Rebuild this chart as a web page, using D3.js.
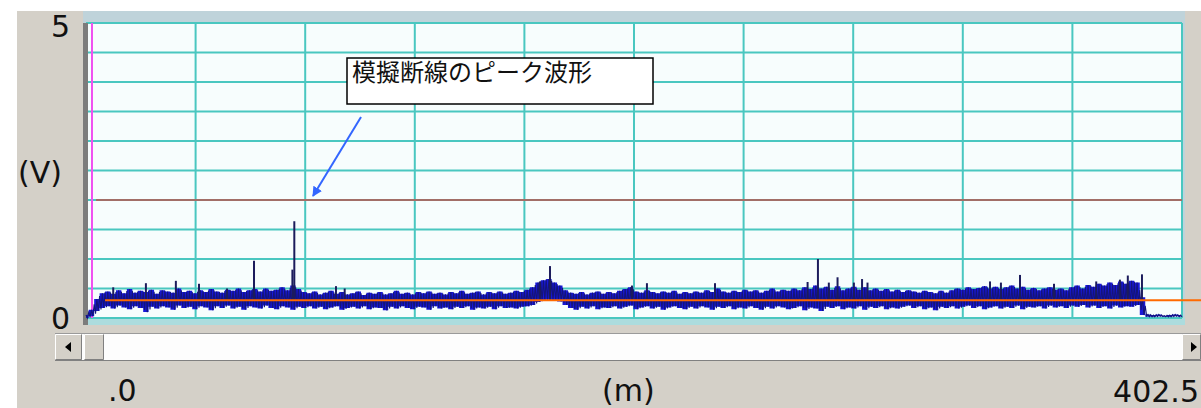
<!DOCTYPE html>
<html>
<head>
<meta charset="utf-8">
<script src="https://cdn.jsdelivr.net/npm/d3@7"></script>
<style>
  body { margin: 0; background: #fff; }
  svg { display: block; }
  text { font-family: "DejaVu Sans", sans-serif; fill: #111; }
</style>
</head>
<body>
<div id="chart"></div>
<script>
// distance axis (m) and sample step of the trace
const xMax = 402.5
const sampleStep = 2
const yTickLabels = ["0", "5"]
const xTickLabels = [".0", "402.5"]

// upper edge of the noisy trace (V), one value per 2 m
const traceHigh = [
  0.05,0.14,0.32,0.42,0.45,0.41,0.47,0.42,0.49,0.43,0.46,0.44,0.48,0.41,0.47,0.45,0.43,0.5,0.44,0.46,
  0.42,0.47,0.44,0.49,0.45,0.43,0.48,0.46,0.5,0.44,0.47,0.49,0.45,0.5,0.46,0.48,0.52,0.47,0.55,0.49,
  0.44,0.42,0.45,0.4,0.43,0.46,0.41,0.44,0.4,0.42,0.45,0.39,0.43,0.41,0.44,0.4,0.42,0.46,0.41,0.43,
  0.4,0.44,0.42,0.45,0.41,0.43,0.4,0.44,0.42,0.46,0.41,0.43,0.45,0.4,0.44,0.42,0.45,0.41,0.43,0.46,
  0.44,0.48,0.52,0.6,0.64,0.66,0.6,0.55,0.47,0.43,0.41,0.44,0.4,0.43,0.45,0.41,0.44,0.42,0.46,0.49,
  0.52,0.45,0.43,0.47,0.44,0.42,0.45,0.43,0.46,0.41,0.44,0.42,0.45,0.43,0.47,0.44,0.5,0.45,0.43,0.46,
  0.44,0.48,0.45,0.47,0.43,0.46,0.5,0.45,0.48,0.46,0.5,0.47,0.52,0.49,0.55,0.5,0.53,0.48,0.54,0.47,
  0.5,0.53,0.48,0.52,0.47,0.5,0.46,0.49,0.45,0.48,0.44,0.47,0.45,0.43,0.46,0.44,0.42,0.46,0.43,0.47,
  0.5,0.48,0.52,0.49,0.51,0.54,0.5,0.53,0.49,0.52,0.55,0.5,0.53,0.48,0.51,0.47,0.5,0.52,0.48,0.5,
  0.47,0.52,0.55,0.5,0.56,0.53,0.58,0.55,0.6,0.56,0.62,0.58,0.63,0.6,0.35,0.06,0.05,0.06,0.04,0.05,
  0.06,0.05
]

// lower edge of the noisy trace (V)
const traceLow = [
  0.0,0.03,0.12,0.17,0.2,0.16,0.21,0.18,0.15,0.2,0.17,0.1,0.19,0.16,0.2,0.18,0.14,0.21,0.17,0.19,
  0.15,0.2,0.18,0.13,0.2,0.17,0.21,0.16,0.19,0.14,0.2,0.18,0.16,0.21,0.17,0.15,0.2,0.18,0.14,0.19,
  0.17,0.2,0.16,0.19,0.15,0.18,0.2,0.14,0.17,0.19,0.16,0.2,0.15,0.18,0.17,0.13,0.19,0.16,0.2,0.17,
  0.15,0.19,0.18,0.14,0.2,0.16,0.18,0.15,0.19,0.17,0.2,0.14,0.18,0.16,0.19,0.15,0.2,0.17,0.18,0.16,
  0.19,0.2,0.22,0.27,0.3,0.31,0.3,0.28,0.22,0.17,0.14,0.19,0.16,0.2,0.15,0.18,0.17,0.2,0.16,0.19,
  0.21,0.15,0.18,0.2,0.16,0.19,0.14,0.18,0.2,0.17,0.15,0.19,0.16,0.2,0.18,0.14,0.19,0.17,0.2,0.15,
  0.18,0.16,0.2,0.17,0.14,0.19,0.16,0.2,0.18,0.15,0.17,0.2,0.13,0.18,0.16,0.12,0.19,0.17,0.2,0.15,
  0.18,0.16,0.2,0.14,0.19,0.17,0.2,0.15,0.18,0.16,0.19,0.21,0.17,0.2,0.15,0.18,0.13,0.19,0.17,0.2,
  0.16,0.19,0.21,0.17,0.2,0.15,0.18,0.2,0.16,0.19,0.17,0.21,0.15,0.19,0.18,0.2,0.16,0.21,0.18,0.2,
  0.17,0.21,0.19,0.22,0.18,0.21,0.17,0.2,0.16,0.21,0.18,0.2,0.19,0.22,0.05,0.02,0.02,0.03,0.02,0.02,
  0.03,0.02
]

// narrow peaks sticking out of the trace: position (m), peak (V)
const peakPos = [10, 22, 33, 41.5, 51.8, 61.7, 75.8, 76.5, 91.8, 95, 166.7, 170.4, 200.5, 206,
  231, 265, 268.8, 272.8, 276, 282, 285, 287, 332, 336, 343, 355.5, 371, 379.7, 382.6, 387.8]
const peakVal = [0.52, 0.59, 0.63, 0.58, 0.5, 0.97, 0.82, 1.64, 0.54, 0.5, 0.62, 0.88, 0.55, 0.59,
  0.59, 0.61, 1.0, 0.6, 0.69, 0.6, 0.66, 0.6, 0.62, 0.6, 0.73, 0.58, 0.62, 0.65, 0.72, 0.74]

const thresholdV = 2.0   // red line
const levelV = 0.3       // orange line
const cursorM = 2.2      // magenta cursor
const note = "模擬断線のピーク波形"

const W = 1201, H = 408
const svg = d3.select("#chart").append("svg").attr("width", W).attr("height", H)

const x = d3.scaleLinear().domain([0, xMax]).range([86, 1182])
const y = d3.scaleLinear().domain([0, 5]).range([318, 23])

// window background
svg.append("rect").attr("x", 17).attr("y", 11).attr("width", W - 17).attr("height", H - 11).attr("fill", "#d4d0c8")
// frame round the plot
svg.append("rect").attr("x", 83).attr("y", 11).attr("width", 1102).attr("height", 314).attr("fill", "#bfd3da")
svg.append("rect").attr("x", 83).attr("y", 318).attr("width", 1102).attr("height", 7).attr("fill", "#acdcde")
svg.append("rect").attr("x", x(0)).attr("y", y(5)).attr("width", x(xMax) - x(0)).attr("height", y(0) - y(5))
  .attr("fill", "#f7fdfd")

// grid
const grid = svg.append("g")
grid.selectAll(".h").data(d3.range(0, 5.01, 0.5)).join("line")
  .attr("x1", x(0)).attr("x2", x(xMax)).attr("y1", d => y(d)).attr("y2", d => y(d))
  .attr("stroke", "#4ac7c0").attr("stroke-width", 2)
grid.selectAll(".v").data(d3.range(0, 11).map(i => i * xMax / 10)).join("line")
  .attr("x1", d => x(d)).attr("x2", d => x(d)).attr("y1", y(5)).attr("y2", y(0))
  .attr("stroke", "#4ac7c0").attr("stroke-width", 2)

// left edge bars and cursor
svg.append("rect").attr("x", 83).attr("y", 23).attr("width", 5).attr("height", 302).attr("fill", "#7c7c7c")
svg.append("line").attr("x1", x(cursorM)).attr("x2", x(cursorM)).attr("y1", y(5)).attr("y2", y(0))
  .attr("stroke", "#f050f0").attr("stroke-width", 2)

// threshold line
svg.append("line").attr("x1", x(0) + 10).attr("x2", x(xMax)).attr("y1", y(thresholdV)).attr("y2", y(thresholdV))
  .attr("stroke", "#c0504a").attr("stroke-width", 1.5)

// trace: filled band plus a zig-zag between the edges
const samples = traceHigh.map((v, i) => ({ m: i * sampleStep, hi: v, lo: traceLow[i] }))
const xm = m => x(Math.min(m, xMax))
const area = d3.area().x(d => xm(d.m)).y0(d => y(d.lo)).y1(d => y(d.hi)).curve(d3.curveStep)
svg.append("path").datum(samples).attr("d", area).attr("fill", "#1818d8")

const zig = []
samples.forEach((d, i) => {
  const next = samples[i + 1] || d
  const lo2 = (d.lo + next.lo) / 2, hi2 = (d.hi + next.hi) / 2
  zig.push([d.m, d.hi], [d.m + sampleStep * 0.25, d.lo], [d.m + sampleStep * 0.5, hi2], [d.m + sampleStep * 0.75, lo2])
})
svg.append("path").datum(zig.filter(p => p[0] <= xMax))
  .attr("d", d3.line().x(p => x(p[0])).y(p => y(p[1])))
  .attr("fill", "none").attr("stroke", "#14147a").attr("stroke-width", 1.1)

svg.selectAll(".peak").data(peakPos).join("line")
  .attr("x1", d => x(d)).attr("x2", d => x(d))
  .attr("y1", y(levelV)).attr("y2", (d, i) => y(peakVal[i]))
  .attr("stroke", "#1c1c5c").attr("stroke-width", 2)

// level line
svg.append("line").attr("x1", x(7)).attr("x2", W).attr("y1", y(levelV)).attr("y2", y(levelV))
  .attr("stroke", "#ff6a00").attr("stroke-width", 2)

// annotation
svg.append("rect").attr("x", 347).attr("y", 58).attr("width", 306).attr("height", 46)
  .attr("fill", "#fff").attr("stroke", "#000").attr("stroke-width", 1.5)
svg.append("text").attr("x", 352).attr("y", 81).text(note)
  .style("font-family", "'Noto Sans CJK JP'").style("font-size", "24px")
svg.append("defs").append("marker").attr("id", "arr").attr("viewBox", "0 0 10 10")
  .attr("refX", 9).attr("refY", 5).attr("markerWidth", 5).attr("markerHeight", 5).attr("orient", "auto")
  .append("path").attr("d", "M0,0 L10,5 L0,10 z").attr("fill", "#3366ff")
svg.append("line").attr("x1", 361).attr("y1", 117).attr("x2", 313).attr("y2", 196)
  .attr("stroke", "#3366ff").attr("stroke-width", 2).attr("marker-end", "url(#arr)")

// axis labels
svg.append("text").attr("x", 70).attr("y", 37).attr("text-anchor", "end").style("font-size", "30px").text(yTickLabels[1])
svg.append("text").attr("x", 70).attr("y", 329).attr("text-anchor", "end").style("font-size", "30px").text(yTickLabels[0])
svg.append("text").attr("x", 18).attr("y", 183).style("font-size", "30px").text("(V)")
svg.append("text").attr("x", 108).attr("y", 401).style("font-size", "30px").text(xTickLabels[0])
svg.append("text").attr("x", 602).attr("y", 401).style("font-size", "30px").text("(m)")
svg.append("text").attr("x", 1199).attr("y", 402).attr("text-anchor", "end").style("font-size", "30px").text(xTickLabels[1])

// scrollbar
const sb = svg.append("g")
sb.append("rect").attr("x", 55).attr("y", 333).attr("width", W - 55).attr("height", 28).attr("fill", "#fdfdfd")
sb.append("line").attr("x1", 55).attr("x2", W).attr("y1", 333.5).attr("y2", 333.5).attr("stroke", "#9a9a9a")
sb.append("line").attr("x1", 55).attr("x2", W).attr("y1", 360.5).attr("y2", 360.5).attr("stroke", "#808080")
function button(bx, bw) {
  sb.append("rect").attr("x", bx).attr("y", 334).attr("width", bw).attr("height", 26).attr("fill", "#d4d0c8")
  sb.append("path").attr("d", `M${bx + 0.5},${359.5} V334.5 H${bx + bw - 0.5}`).attr("fill", "none").attr("stroke", "#fff")
  sb.append("path").attr("d", `M${bx + 0.5},${359.5} H${bx + bw - 0.5} V334.5`).attr("fill", "none").attr("stroke", "#808080")
}
button(55, 27)
button(84, 20)
button(1182, 19)
sb.append("path").attr("d", "M65,347 L71,342 L71,352 z").attr("fill", "#000")
sb.append("path").attr("d", "M1197,347 L1191,342 L1191,352 z").attr("fill", "#000")
</script>
</body>
</html>
